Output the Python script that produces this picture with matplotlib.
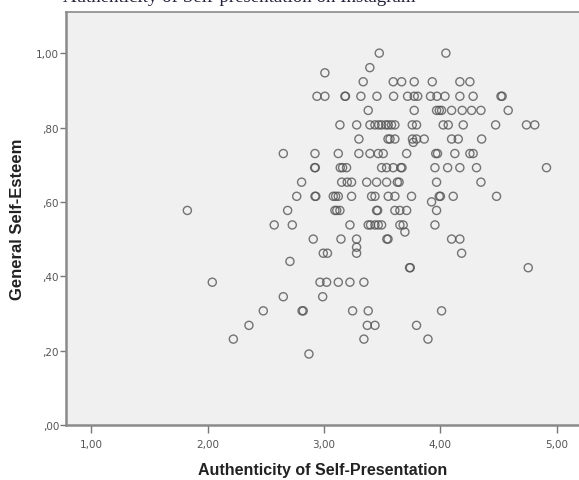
import numpy as np
import matplotlib
matplotlib.use("Agg")
import matplotlib.pyplot as plt
from matplotlib.ticker import FuncFormatter

# Authenticity of self-presentation (x) vs. general self-esteem (y)
authenticity = [
    3.475, 4.047,
    3.394,
    3.008,
    3.337, 3.595, 3.667, 3.775, 3.930, 4.167, 4.253,
    2.940, 3.008, 3.180, 3.185, 3.317, 3.455, 3.598, 3.718, 3.775, 3.805,
    3.915, 3.970, 4.039, 4.167, 4.281, 4.520, 4.530,
    3.380, 3.775, 3.967, 3.990, 4.010, 4.096, 4.187, 4.268, 4.348, 4.582,
    3.137, 3.281, 3.395, 3.438, 3.470, 3.495, 3.530, 3.552, 3.580, 3.609,
    3.758, 3.795, 4.024, 4.067, 4.196, 4.474, 4.739, 4.810,
    3.300, 3.550, 3.567, 3.609, 3.760, 3.767, 3.795, 3.861, 4.096, 4.153, 4.354,
    2.651, 2.923, 3.123, 3.300, 3.395, 3.466, 3.509, 3.710, 3.960, 3.975,
    4.124, 4.253, 4.281,
    2.920, 2.926, 3.140, 3.160, 3.194, 3.495, 3.538, 3.595, 3.660, 3.670,
    3.953, 4.062, 4.167, 4.310, 4.911,
    2.808, 3.152, 3.200, 3.237, 3.367, 3.452, 3.538, 3.630, 3.645, 3.967, 4.348,
    2.766, 2.923, 2.930, 3.080, 3.100, 3.123, 3.237, 3.409, 3.438, 3.552,
    3.609, 3.752, 3.990, 4.000, 4.110, 4.482, 3.924,
    1.827, 2.688, 3.094, 3.110, 3.137, 3.452, 3.461, 3.609, 3.652, 3.710, 3.967,
    2.573, 2.728, 3.223, 3.380, 3.400, 3.438, 3.466, 3.495, 3.652, 3.680, 3.953,
    3.695,
    2.908, 3.146, 3.280, 3.540, 3.550, 4.096, 4.167, 3.280,
    2.994, 3.030, 3.280, 4.182, 2.708,
    3.735, 3.741, 4.754,
    2.041, 2.966, 3.023, 3.123, 3.223, 3.343,
    2.651, 2.989,
    2.479, 2.812, 2.822, 3.246, 3.380, 4.010,
    2.356, 3.372, 3.438, 3.795,
    2.222, 3.343, 3.893,
    2.871,
]

self_esteem = [
    1.000, 1.000,
    0.961,
    0.947,
    0.923, 0.923, 0.923, 0.923, 0.923, 0.923, 0.923,
    0.884, 0.884, 0.884, 0.884, 0.884, 0.884, 0.884, 0.884, 0.884, 0.884,
    0.884, 0.884, 0.884, 0.884, 0.884, 0.884, 0.884,
    0.846, 0.846, 0.846, 0.846, 0.846, 0.846, 0.846, 0.846, 0.846, 0.846,
    0.807, 0.807, 0.807, 0.807, 0.807, 0.807, 0.807, 0.807, 0.807, 0.807,
    0.807, 0.807, 0.807, 0.807, 0.807, 0.807, 0.807, 0.807,
    0.769, 0.769, 0.769, 0.769, 0.769, 0.760, 0.769, 0.769, 0.769, 0.769, 0.769,
    0.730, 0.730, 0.730, 0.730, 0.730, 0.730, 0.730, 0.730, 0.730, 0.730,
    0.730, 0.730, 0.730,
    0.692, 0.692, 0.692, 0.692, 0.692, 0.692, 0.692, 0.692, 0.692, 0.692,
    0.692, 0.692, 0.692, 0.692, 0.692,
    0.653, 0.653, 0.653, 0.653, 0.653, 0.653, 0.653, 0.653, 0.653, 0.653, 0.653,
    0.615, 0.615, 0.615, 0.615, 0.615, 0.615, 0.615, 0.615, 0.615, 0.615,
    0.615, 0.615, 0.615, 0.615, 0.615, 0.615, 0.600,
    0.577, 0.577, 0.577, 0.577, 0.577, 0.577, 0.577, 0.577, 0.577, 0.577, 0.577,
    0.538, 0.538, 0.538, 0.538, 0.538, 0.538, 0.538, 0.538, 0.538, 0.538, 0.538,
    0.519,
    0.500, 0.500, 0.500, 0.500, 0.500, 0.500, 0.500, 0.478,
    0.462, 0.462, 0.462, 0.462, 0.440,
    0.423, 0.423, 0.423,
    0.384, 0.384, 0.384, 0.384, 0.384, 0.384,
    0.345, 0.345,
    0.307, 0.307, 0.307, 0.307, 0.307, 0.307,
    0.268, 0.268, 0.268, 0.268,
    0.231, 0.231, 0.231,
    0.191,
]

x_ticks = [1, 2, 3, 4, 5]
y_ticks = [0.0, 0.2, 0.4, 0.6, 0.8, 1.0]


def comma_fmt(v, pos):
    s = f"{v:.2f}".replace(".", ",")
    return s[1:] if s.startswith("0") else s


fig = plt.figure(figsize=(5.79, 4.81), dpi=100)
ax = fig.add_axes([0.114, 0.1143, 0.886, 0.859])
ax.set_facecolor("#f0f0f0")

ax.scatter(authenticity, self_esteem, s=34, facecolors="none",
           edgecolors="#555555", linewidths=1.0, alpha=0.8, zorder=3)

ax.set_xlim(0.785, 5.19)
ax.set_ylim(0.0, 1.111)
ax.set_xticks(x_ticks)
ax.set_yticks(y_ticks)
ax.xaxis.set_major_formatter(FuncFormatter(comma_fmt))
ax.yaxis.set_major_formatter(FuncFormatter(comma_fmt))
ax.tick_params(axis="x", length=6, width=1.0, color="#777777",
               labelsize=7.5, labelcolor="#555555", pad=4)
ax.tick_params(axis="y", length=4, width=1.0, color="#777777",
               labelsize=7.5, labelcolor="#555555", pad=1)

for side in ["left", "bottom", "top"]:
    ax.spines[side].set_color("#8a8a8a")
    ax.spines[side].set_linewidth(1.8)
ax.spines["top"].set_linewidth(1.2)
ax.spines["right"].set_visible(False)

ax.set_xlabel("Authenticity of Self-Presentation", fontsize=11.5,
              fontweight="bold", color="#222222", family="Liberation Sans",
              va="top")
ax.set_ylabel("General Self-Esteem", fontsize=12, fontweight="bold",
              color="#222222", family="Liberation Sans")
ax.xaxis.set_label_coords(0.5, -0.0896)
ax.yaxis.set_label_coords(-0.079, 0.5)

# title sits mostly above the top edge, as in the cropped source
fig.text(0.109, 1 - 1.5 / 481, "Authenticity of Self-presentation on Instagram",
         fontsize=13.6, family="Liberation Serif", color="#22223a",
         ha="left", va="baseline")

fig.savefig("out.png", dpi=100)
